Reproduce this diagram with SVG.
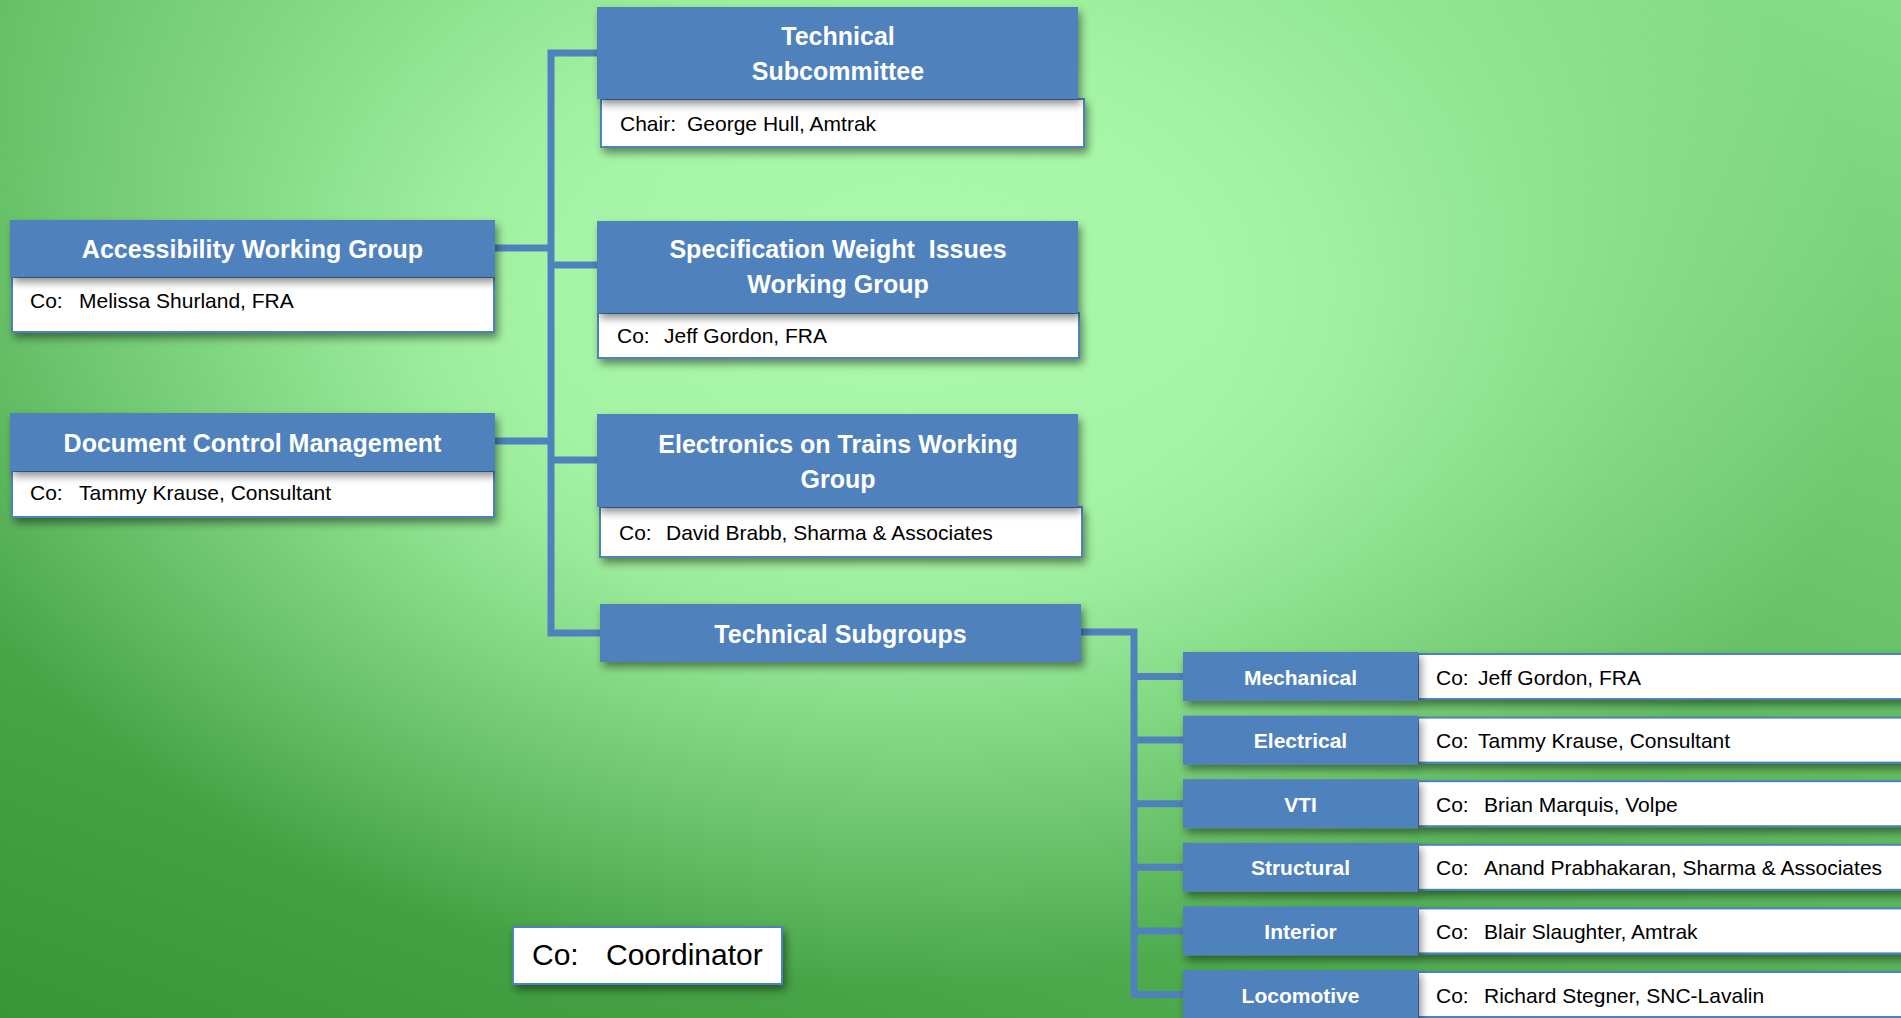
<svg xmlns="http://www.w3.org/2000/svg" width="1901" height="1018" viewBox="0 0 1901 1018">
<defs>
<linearGradient id="bgl" x1="0" y1="1" x2="0.797" y2="-0.142">
<stop offset="0" stop-color="#379637"/>
<stop offset="1" stop-color="#86de86"/>
</linearGradient>
<radialGradient id="bgr" gradientUnits="userSpaceOnUse" cx="0" cy="0" r="1000" gradientTransform="translate(880,320) scale(1,0.6667)">
<stop offset="0" stop-color="#b2ffb2" stop-opacity="0.9"/>
<stop offset="0.34" stop-color="#b2ffb2" stop-opacity="0.84"/>
<stop offset="0.45" stop-color="#b2ffb2" stop-opacity="0.74"/>
<stop offset="0.77" stop-color="#b2ffb2" stop-opacity="0.3"/>
<stop offset="1" stop-color="#b2ffb2" stop-opacity="0"/>
</radialGradient>
<filter id="sh" x="-10%" y="-20%" width="125%" height="160%">
<feDropShadow dx="3" dy="5" stdDeviation="4" flood-color="#000" flood-opacity="0.45"/>
</filter>
<style>
.blue{fill:#4f81bd;filter:url(#sh)}
.white{fill:#fff;stroke:#4f81bd;stroke-width:2;filter:url(#sh)}
.title{font-family:"Liberation Sans",Arial,sans-serif;font-weight:bold;font-size:25px;fill:#fff;text-anchor:middle}
.sub{font-family:"Liberation Sans",Arial,sans-serif;font-weight:bold;font-size:21px;fill:#fff;text-anchor:middle}
.body{font-family:"Liberation Sans",Arial,sans-serif;font-size:21px;fill:#000}
.conn{fill:none;stroke:#4f81bd;stroke-width:7;stroke-linecap:square;stroke-linejoin:miter}
</style>
</defs>
<rect x="0" y="0" width="1901" height="1018" fill="url(#bgl)"/>
<rect x="0" y="0" width="1901" height="1018" fill="url(#bgr)"/>

<g id="connectors">
<path class="conn" d="M495,248 H551 M495,441 H551 M597,53 H551 V633 H600 M551,265 H597 M551,460 H597"/>
<path class="conn" d="M1081,632 H1134 V994.5 H1183 M1134,676.5 H1183 M1134,740.1 H1183 M1134,803.7 H1183 M1134,867.3 H1183 M1134,930.9 H1183"/>
</g>

<g id="technical-subcommittee">
<rect class="white" x="601" y="99" width="483" height="48"/>
<rect class="blue" x="597" y="7" width="481" height="92"/>
<text class="title" x="838" y="45">Technical</text>
<text class="title" x="838" y="80">Subcommittee</text>
<text class="body" x="620" y="131">Chair:</text>
<text class="body" x="687" y="131">George Hull, Amtrak</text>
</g>

<g id="accessibility">
<rect class="white" x="12" y="277" width="482" height="55"/>
<rect class="blue" x="10" y="220" width="485" height="57"/>
<text class="title" x="252.5" y="258">Accessibility Working Group</text>
<text class="body" x="30" y="308">Co:</text>
<text class="body" x="79" y="308">Melissa Shurland, FRA</text>
</g>

<g id="spec-weight">
<rect class="white" x="598" y="313" width="481" height="45"/>
<rect class="blue" x="597" y="221" width="481" height="92"/>
<text class="title" x="838" y="258">Specification Weight&#160; Issues</text>
<text class="title" x="838" y="293">Working Group</text>
<text class="body" x="617" y="343">Co:</text>
<text class="body" x="664" y="343">Jeff Gordon, FRA</text>
</g>

<g id="document-control">
<rect class="white" x="12" y="471" width="482" height="46"/>
<rect class="blue" x="10" y="413" width="485" height="58"/>
<text class="title" x="252.5" y="452">Document Control Management</text>
<text class="body" x="30" y="500">Co:</text>
<text class="body" x="79" y="500">Tammy Krause, Consultant</text>
</g>

<g id="electronics">
<rect class="white" x="600" y="507" width="482" height="50"/>
<rect class="blue" x="597" y="414" width="481" height="93"/>
<text class="title" x="838" y="453">Electronics on Trains Working</text>
<text class="title" x="838" y="488">Group</text>
<text class="body" x="619" y="540">Co:</text>
<text class="body" x="666" y="540">David Brabb, Sharma &amp; Associates</text>
</g>

<g id="technical-subgroups">
<rect class="blue" x="600" y="604" width="481" height="58"/>
<text class="title" x="840.5" y="643">Technical Subgroups</text>
</g>

<g id="mechanical">
<rect class="white" x="1418" y="654" width="500" height="45"/>
<rect class="blue" x="1183" y="652" width="235" height="49"/>
<text class="sub" x="1300.5" y="684.5">Mechanical</text>
<text class="body" x="1436" y="684.5">Co:</text>
<text class="body" x="1478" y="684.5">Jeff Gordon, FRA</text>
</g>

<g id="electrical">
<rect class="white" x="1418" y="717.6" width="500" height="45"/>
<rect class="blue" x="1183" y="715.6" width="235" height="49"/>
<text class="sub" x="1300.5" y="748.1">Electrical</text>
<text class="body" x="1436" y="748.1">Co:</text>
<text class="body" x="1478" y="748.1">Tammy Krause, Consultant</text>
</g>

<g id="vti">
<rect class="white" x="1418" y="781.2" width="500" height="45"/>
<rect class="blue" x="1183" y="779.2" width="235" height="49"/>
<text class="sub" x="1300.5" y="811.7">VTI</text>
<text class="body" x="1436" y="811.7">Co:</text>
<text class="body" x="1484" y="811.7">Brian Marquis, Volpe</text>
</g>

<g id="structural">
<rect class="white" x="1418" y="844.8" width="500" height="45"/>
<rect class="blue" x="1183" y="842.8" width="235" height="49"/>
<text class="sub" x="1300.5" y="875.3">Structural</text>
<text class="body" x="1436" y="875.3">Co:</text>
<text class="body" x="1484" y="875.3">Anand Prabhakaran, Sharma &amp; Associates</text>
</g>

<g id="interior">
<rect class="white" x="1418" y="908.4" width="500" height="45"/>
<rect class="blue" x="1183" y="906.4" width="235" height="49"/>
<text class="sub" x="1300.5" y="938.9">Interior</text>
<text class="body" x="1436" y="938.9">Co:</text>
<text class="body" x="1484" y="938.9">Blair Slaughter, Amtrak</text>
</g>

<g id="locomotive">
<rect class="white" x="1418" y="972" width="500" height="45"/>
<rect class="blue" x="1183" y="970" width="235" height="49"/>
<text class="sub" x="1300.5" y="1002.5">Locomotive</text>
<text class="body" x="1436" y="1002.5">Co:</text>
<text class="body" x="1484" y="1002.5">Richard Stegner, SNC-Lavalin</text>
</g>

<g id="legend">
<rect class="white" x="513" y="927" width="269" height="57"/>
<text class="body" x="532" y="965" style="font-size:30px">Co:</text>
<text class="body" x="606" y="965" style="font-size:30px">Coordinator</text>
</g>
</svg>
